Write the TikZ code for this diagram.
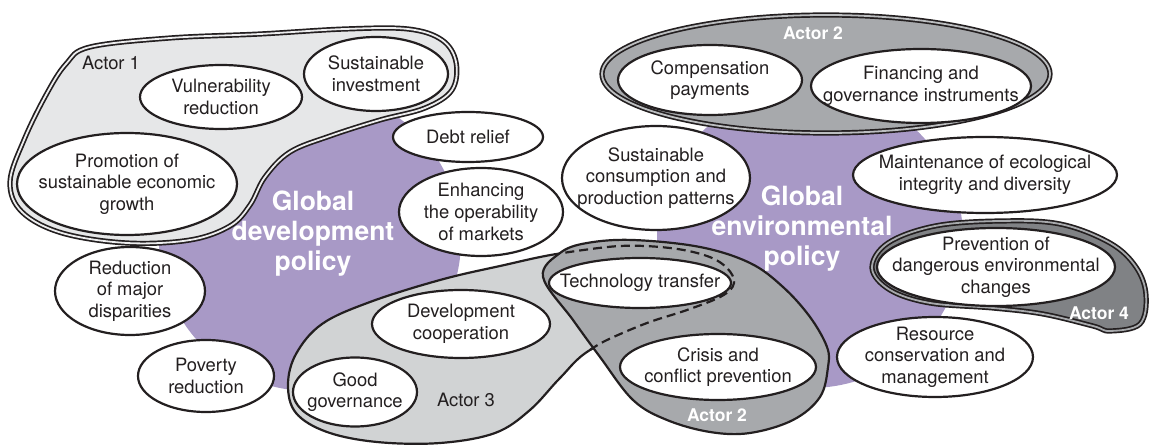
\documentclass[tikz,border=0pt]{standalone}
\usepackage{fontspec}
\setmainfont{TeX Gyre Heros}
\usetikzlibrary{shapes.geometric}
\definecolor{purp}{HTML}{A899C6}
\definecolor{aone}{HTML}{E6E7E8}
\definecolor{aoneband}{HTML}{EDEDEE}
\definecolor{atwo}{HTML}{A7A9AC}
\definecolor{atwoband}{HTML}{BCBEC0}
\definecolor{athree}{HTML}{D1D3D4}
\definecolor{afour}{HTML}{808285}
\definecolor{afourband}{HTML}{A7A9AC}
\definecolor{ink}{HTML}{231F20}
\begin{document}
\begin{tikzpicture}[x=1pt,y=-1pt,
  bub/.style={ellipse, draw=ink, fill=white, line width=2.2pt, inner sep=0pt},
  lbl/.style={font=\fontsize{18.4}{21.7}\selectfont, text=ink, align=center, inner sep=0pt},
  big/.style={font=\fontsize{26.5}{30}\selectfont\bfseries, text=white, align=center, inner sep=0pt},
  actw/.style={font=\fontsize{17.5}{20}\selectfont\bfseries, text=white, inner sep=0pt},
  actd/.style={font=\fontsize{18.4}{20}\selectfont, text=ink, inner sep=0pt},
  dbl/.style={draw=ink, line width=1.7pt, double distance=1.8pt, double=#1},
  sgl/.style={draw=ink, line width=2.2pt},
]
\useasboundingbox (0,0) rectangle (1149,446);

% policy fields
\node[circle, fill=purp, minimum size=302, inner sep=0pt] (pdev) at (310,240) {};
\node[ellipse, fill=purp, minimum width=306, minimum height=300, inner sep=0pt] (penv) at (810,238) {};

% Actor 1
\path[fill=aone, dbl=aoneband] plot[smooth cycle, tension=0.6] coordinates {
 (90,47) (170,38) (260,34) (345,29) (408,29) (442,40) (456,62) (452,90) (425,108)
 (380,120) (330,136) (290,152) (265,177) (250,205) (230,226) (190,240) (127,243)
 (62,233) (22,212) (10,182) (24,140) (46,95) (66,64)};

% Actor 2 (top)
\node[ellipse, fill=atwo, dbl=atwoband, minimum width=448, minimum height=118, inner sep=0pt] (atwotop) at (826,74) {};

% Actor 3
\path[fill=athree, sgl] plot[smooth cycle, tension=0.6] coordinates {
 (563,253) (500,266) (440,280) (370,302) (322,324) (296,354) (288,385) (296,413)
 (327,432) (377,442) (440,443) (495,433) (530,410) (560,378) (590,350) (650,322)
 (723,297) (733,283) (707,257) (640,246)};

% Actor 2 (bottom)
\path[fill=atwo, sgl] plot[smooth cycle, tension=0.6] coordinates {
 (543,277) (560,253) (587,243) (633,240) (700,247) (750,263) (783,287) (810,317)
 (827,347) (828,367) (820,397) (793,420) (750,433) (710,432) (667,420) (633,400)
 (600,357) (573,320)};
\draw[ink, line width=2.2pt, dash pattern=on 9pt off 5pt] plot[smooth, tension=0.6] coordinates {
 (590,350) (607,340) (647,323) (687,310) (722,296) (734,283) (727,268) (707,256)
 (670,248) (620,246) (563,253)};

% Actor 4
\path[fill=afour, dbl=afourband] plot[smooth cycle, tension=0.6] coordinates {
 (872,268) (888,243) (935,226) (1000,221) (1060,224) (1110,243) (1136,267) (1146,295)
 (1140,324) (1110,331) (1093,326) (1043,314) (993,308) (930,303) (890,290)};

% topic ellipses
\node[bub, minimum width=162, minimum height=64, label={[lbl]center:Vulnerability\\reduction}] (vul) at (221,97) {};
\node[bub, minimum width=144, minimum height=74, label={[lbl]center:Sustainable\\investment}] (sinv) at (376,74) {};
\node[bub, minimum width=220, minimum height=102, label={[lbl]center:Promotion of\\sustainable economic\\growth}] (prom) at (127,184) {};
\node[bub, minimum width=150, minimum height=50, label={[lbl]center:Debt relief}] (debt) at (468,137) {};
\node[bub, minimum width=164, minimum height=88, label={[lbl]center:Enhancing\\the operability\\of markets}] (enh) at (481,212) {};
\node[bub, minimum width=150, minimum height=88, label={[lbl]center:Reduction\\of major\\disparities}] (red) at (130,291) {};
\node[bub, minimum width=136, minimum height=72, label={[lbl]center:Poverty\\reduction}] (pov) at (206,376) {};
\node[bub, minimum width=124, minimum height=69, label={[lbl]center:Good\\governance}] (good) at (355,392) {};
\node[bub, minimum width=178, minimum height=68, label={[lbl]center:Development\\cooperation}] (devc) at (461,324) {};
\node[bub, minimum width=182, minimum height=50, label={[lbl]center:Technology transfer}] (tech) at (640,283) {};
\node[bub, minimum width=196, minimum height=66, label={[lbl]center:Crisis and\\conflict prevention}] (cris) at (718,367) {};
\node[bub, minimum width=184, minimum height=70, label={[lbl]center:Compensation\\payments}] (comp) at (710,80) {};
\node[bub, minimum width=220, minimum height=74, label={[lbl]center:Financing and\\governance instruments}] (fin) at (921,86) {};
\node[bub, minimum width=188, minimum height=104, label={[lbl]center:Sustainable\\consumption and\\production patterns}] (scp) at (656,178) {};
\node[bub, minimum width=264, minimum height=76, label={[lbl]center:Maintenance of ecological\\integrity and diversity}] (main) at (985,175) {};
\node[bub, minimum width=238, minimum height=78, label={[lbl]center:Prevention of\\dangerous environmental\\changes}] (prev) at (996,267) {};
\node[bub, minimum width=196, minimum height=80, label={[lbl]center:Resource\\conservation and\\management}] (res) at (935,357) {};

% policy labels
\node[big] (gdp) at (313,234) {Global\\development\\policy};
\node[big] (gep) at (802,229) {Global\\environmental\\policy};

% actor labels
\node[actd] (lone) at (111,63) {Actor 1};
\node[actw] (ltwo) at (813,33) {Actor 2};
\node[actd] (lthree) at (466,400) {Actor 3};
\node[actw] (ltwob) at (717,415) {Actor 2};
\node[actw] (lfour) at (1099,313) {Actor 4};
\end{tikzpicture}
\end{document}
